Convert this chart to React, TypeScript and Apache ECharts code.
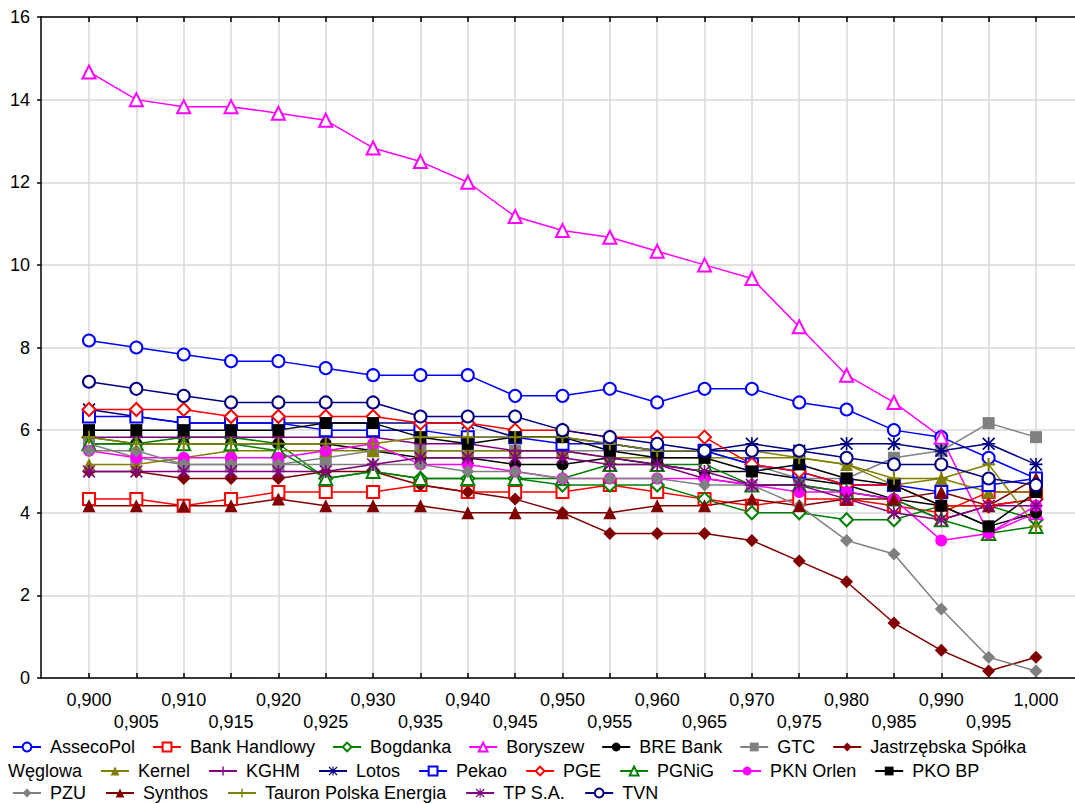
import React, { useEffect, useRef } from "react";
import * as echarts from "echarts";

// x positions (index) and tick labels
const xLabels = ["0,900","0,905","0,910","0,915","0,920","0,925","0,930","0,935","0,940","0,945","0,950","0,955","0,960","0,965","0,970","0,975","0,980","0,985","0,990","0,995","1,000"];
const yTicks = [0, 2, 4, 6, 8, 10, 12, 14, 16];

const assecoPol = [8.17,8.0,7.83,7.67,7.67,7.5,7.33,7.33,7.33,6.83,6.83,7.0,6.67,7.0,7.0,6.67,6.5,6.0,5.83,5.33,4.83];
const bankHandlowy = [4.33,4.33,4.17,4.33,4.5,4.5,4.5,4.67,4.5,4.5,4.5,4.67,4.5,4.33,4.17,4.33,4.33,4.17,4.0,4.5,4.5];
const bogdanka = [5.83,5.67,5.83,5.83,5.67,4.83,5.0,4.83,4.83,4.83,4.67,4.67,4.67,4.33,4.0,4.0,3.83,3.83,4.17,4.17,3.83];
const boryszew = [14.67,14.0,13.83,13.83,13.67,13.5,12.83,12.5,12.0,11.17,10.83,10.67,10.33,10.0,9.67,8.5,7.33,6.67,5.83,3.5,4.0];
const breBank = [5.67,5.67,5.67,5.67,5.67,5.67,5.5,5.33,5.33,5.17,5.17,5.33,5.17,5.0,5.0,4.83,4.67,4.33,4.17,3.67,4.0];
const gtc = [5.67,5.33,5.17,5.17,5.17,5.33,5.5,5.5,5.5,5.5,5.5,5.5,5.5,5.5,5.17,4.83,4.83,5.33,5.5,6.17,5.83];
const jastrzebska = [5.0,5.0,4.83,4.83,4.83,5.0,5.0,4.67,4.5,4.33,4.0,3.5,3.5,3.5,3.33,2.83,2.33,1.33,0.67,0.17,0.5];
const kernel = [5.17,5.17,5.33,5.5,5.5,5.5,5.5,5.5,5.5,5.5,5.5,5.33,5.33,5.33,5.33,5.33,5.17,4.67,4.83,4.5,4.5];
const kghm = [5.83,5.83,5.83,5.83,5.83,5.83,5.83,5.67,5.67,5.5,5.5,5.33,5.17,4.83,4.67,4.67,4.5,4.33,3.83,4.17,4.33];
const lotos = [6.5,6.33,6.17,6.17,6.17,6.17,6.17,6.17,6.17,5.83,5.83,5.67,5.5,5.5,5.67,5.5,5.67,5.67,5.5,5.67,5.17];
const pekao = [6.33,6.33,6.17,6.17,6.17,6.0,6.0,6.0,5.83,5.83,5.67,5.67,5.5,5.5,5.17,5.0,4.67,4.67,4.5,4.67,4.83];
const pge = [6.5,6.5,6.5,6.33,6.33,6.33,6.33,6.17,6.17,6.0,6.0,5.83,5.83,5.83,5.17,5.0,4.67,4.67,4.17,4.17,4.33];
const pgnig = [5.67,5.67,5.67,5.67,5.5,4.83,5.0,4.83,4.83,4.83,4.83,5.17,5.17,5.17,4.67,4.67,4.5,4.33,3.83,3.5,3.67];
const pknOrlen = [5.5,5.33,5.33,5.33,5.33,5.5,5.67,5.17,5.17,5.0,4.83,4.83,4.83,4.83,4.67,4.5,4.5,4.33,3.33,3.5,4.17];
const pkoBp = [6.0,6.0,6.0,6.0,6.0,6.17,6.17,5.83,5.67,5.83,5.83,5.5,5.33,5.33,5.0,5.17,4.83,4.67,4.17,3.67,4.5];
const pzu = [5.5,5.5,5.17,5.17,5.17,5.17,5.17,5.17,5.0,5.0,4.83,4.83,4.83,4.67,4.67,4.17,3.33,3.0,1.67,0.5,0.17];
const synthos = [4.17,4.17,4.17,4.17,4.33,4.17,4.17,4.17,4.0,4.0,4.0,4.0,4.17,4.17,4.33,4.17,4.33,4.33,4.5,4.17,4.83];
const tauron = [5.83,5.67,5.67,5.67,5.67,5.67,5.67,5.83,5.83,5.83,5.83,5.67,5.5,5.5,5.5,5.33,5.17,4.83,4.83,5.17,3.67];
const tpSA = [5.0,5.0,5.0,5.0,5.0,5.0,5.17,5.33,5.33,5.33,5.33,5.17,5.17,5.0,4.67,4.67,4.33,4.0,3.83,4.17,4.17];
const tvn = [7.17,7.0,6.83,6.67,6.67,6.67,6.67,6.33,6.33,6.33,6.0,5.83,5.67,5.5,5.5,5.5,5.33,5.17,5.17,4.83,4.67];

const PLUS = "path://M4.2,0H5.8V10H4.2Z M0,4.2H10V5.8H0Z";
const STAR = "path://M4.35,0H5.65V10H4.35Z M0,4.35H10V5.65H0Z M0.9,0L10,9.1L9.1,10L0,0.9Z M9.1,0L10,0.9L0.9,10L0,9.1Z";

const JSW = "Jastrzębska Spółka Węglowa";

const seriesDefs = [
  { name: "AssecoPol", data: assecoPol, color: "#0000ff", symbol: "emptyCircle", size: 12 },
  { name: "Bank Handlowy", data: bankHandlowy, color: "#ff0000", symbol: "emptyRect", size: 12 },
  { name: "Bogdanka", data: bogdanka, color: "#008000", symbol: "emptyDiamond", size: 13 },
  { name: "Boryszew", data: boryszew, color: "#ff00ff", symbol: "emptyTriangle", size: 13 },
  { name: "BRE Bank", data: breBank, color: "#000000", symbol: "circle", size: 12 },
  { name: "GTC", data: gtc, color: "#808080", symbol: "rect", size: 12 },
  { name: JSW, data: jastrzebska, color: "#800000", symbol: "diamond", size: 13 },
  { name: "Kernel", data: kernel, color: "#808000", symbol: "triangle", size: 13 },
  { name: "KGHM", data: kghm, color: "#800080", symbol: PLUS, size: 13 },
  { name: "Lotos", data: lotos, color: "#000080", symbol: STAR, size: 13 },
  { name: "Pekao", data: pekao, color: "#0000ff", symbol: "emptyRect", size: 12 },
  { name: "PGE", data: pge, color: "#ff0000", symbol: "emptyDiamond", size: 13 },
  { name: "PGNiG", data: pgnig, color: "#008000", symbol: "emptyTriangle", size: 13 },
  { name: "PKN Orlen", data: pknOrlen, color: "#ff00ff", symbol: "circle", size: 12 },
  { name: "PKO BP", data: pkoBp, color: "#000000", symbol: "rect", size: 12 },
  { name: "PZU", data: pzu, color: "#808080", symbol: "diamond", size: 13 },
  { name: "Synthos", data: synthos, color: "#800000", symbol: "triangle", size: 13 },
  { name: "Tauron Polska Energia", data: tauron, color: "#808000", symbol: PLUS, size: 13 },
  { name: "TP S.A.", data: tpSA, color: "#800080", symbol: STAR, size: 13 },
  { name: "TVN", data: tvn, color: "#000080", symbol: "emptyCircle", size: 12 },
];

const legendRow1 = ["AssecoPol", "Bank Handlowy", "Bogdanka", "Boryszew", "BRE Bank", "GTC", JSW];
const legendRow2 = ["Kernel", "KGHM", "Lotos", "Pekao", "PGE", "PGNiG", "PKN Orlen", "PKO BP"];
const legendRow3 = ["PZU", "Synthos", "Tauron Polska Energia", "TP S.A.", "TVN"];

const FONT = "'Liberation Sans', Arial, sans-serif";
const idx = xLabels.map((_, i) => i);

export default function App() {
  const ref = useRef<HTMLDivElement>(null);
  useEffect(() => {
    if (!ref.current) return;
    const chart = echarts.init(ref.current, undefined, { renderer: "svg" });
    const textStyle = { fontSize: 18, fontFamily: FONT, color: "#000" };
    const legendBase = {
      orient: "horizontal",
      itemWidth: 28,
      itemHeight: 11,
      itemGap: 19,
      textStyle: { ...textStyle, padding: [0, 0, 0, 4] },
      formatter: (n: string) => (n === JSW ? "Jastrzębska Spółka" : n),
      selectedMode: false,
      padding: 0,
    };
    chart.setOption({
      animation: false,
      backgroundColor: "#fff",
      grid: { left: 41, right: 0, top: 17, bottom: 126, containLabel: false },
      xAxis: [
        {
          type: "value",
          position: "bottom",
          min: -1.0137,
          max: 20.824,
          axisLine: { show: true, onZero: false, lineStyle: { color: "#000", width: 1.5 } },
          axisTick: { show: true, inside: true, length: 5, customValues: idx, lineStyle: { color: "#000", width: 1.5 } },
          axisLabel: {
            customValues: idx,
            formatter: (v: number) => {
              const i = Math.round(v);
              return i % 2 === 1 ? "\n" + xLabels[i] : xLabels[i] + "\n";
            },
            margin: 11,
            lineHeight: 22,
            verticalAlign: "top",
            ...textStyle,
          },
          splitLine: { show: true, lineStyle: { color: "#d9d9d9", width: 1.5 } },
        },
        {
          type: "value",
          position: "top",
          min: -1.0137,
          max: 20.824,
          axisLine: { show: true, onZero: false, lineStyle: { color: "#000", width: 1.5 } },
          axisTick: { show: true, inside: true, length: 5, customValues: idx, lineStyle: { color: "#000", width: 1.5 } },
          axisLabel: { show: false },
          splitLine: { show: false },
        },
      ],
      yAxis: {
        type: "value",
        min: yTicks[0],
        max: yTicks[yTicks.length - 1],
        interval: 2,
        axisLine: { show: true, onZero: false, lineStyle: { color: "#000", width: 1.5 } },
        axisTick: { show: true, inside: false, length: 4, lineStyle: { color: "#000", width: 1.5 } },
        axisLabel: { margin: 11, ...textStyle },
        splitLine: { show: true, lineStyle: { color: "#d9d9d9", width: 1.5 } },
      },
      legend: [
        { ...legendBase, data: legendRow1, left: 12, top: 738, itemGap: 17 },
        { ...legendBase, data: legendRow2, left: 100, top: 762, itemGap: 18 },
        { ...legendBase, data: legendRow3, left: 12, top: 784 },
      ],
      graphic: [
        {
          type: "text",
          left: 8,
          top: 762,
          style: { text: "Węglowa", font: `18px ${FONT}`, fill: "#000" },
        },
      ],
      series: seriesDefs.map((s) => ({
        name: s.name,
        type: "line",
        xAxisIndex: 0,
        data: s.data.map((v, i) => [idx[i], v]),
        symbol: s.symbol,
        symbolSize: s.size,
        showAllSymbol: true,
        lineStyle: { color: s.color, width: 1.5 },
        itemStyle: {
          color: s.color,
          borderColor: s.color,
          borderWidth: s.symbol.startsWith("empty") ? 1.5 : 0,
        },
        emphasis: { disabled: true },
      })),
    });
    return () => chart.dispose();
  }, []);
  return (
    <div
      ref={ref}
      style={{ position: "fixed", left: 0, top: 0, width: 1075, height: 804 }}
    />
  );
}
